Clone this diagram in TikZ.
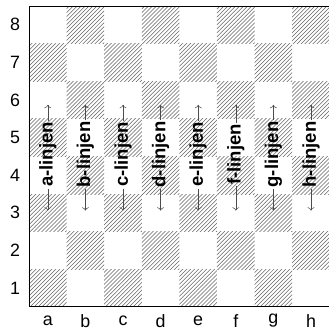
\documentclass[tikz,border=0pt]{standalone}
\usepackage{fontspec}
\setmainfont{Liberation Sans}
\usepackage{tikz}
\usetikzlibrary{patterns,arrows.meta,calc}

\tikzset{
  darksq/.style={pattern=north east lines, pattern color=black!60},
  filelabel/.style={font=\fontsize{14}{16}\selectfont\bfseries, rotate=90, inner sep=1pt},
  coordlabel/.style={font=\fontsize{13.5}{16}\selectfont},
  linearrow/.style={->, draw=black!70},
}

\begin{document}
\begin{tikzpicture}
    \useasboundingbox (-0.771,-0.696) rectangle (7.975,8.16);

    % Dark squares
    \foreach \i in {0,...,7} {
      \foreach \j in {0,...,7} {
        \pgfmathtruncatemacro\sqpar{mod(\i+\j,2)}
        \ifnum\sqpar=0
          \fill[darksq] (\i,\j) rectangle ++(1,1);
        \fi
      }
    }

    % Board edge (right side runs off the picture)
    \draw[semithick] (8,8) -- (0,8) -- (0,0) -- (8,0);

    % Coordinates
    \foreach \f [count=\i from 0] in {a,...,h}
      \node[coordlabel] (file-\f) at (\i+0.5,-0.37) {\f};
    \foreach \r in {1,...,8}
      \node[coordlabel] (rank-\r) at (-0.37,\r-0.5) {\r};

    % File names with arrows
    \foreach \f [count=\i from 0] in {a,...,h} {
      \node[filelabel] (lbl-\f) at (\i+0.5,4.05) {\f-linjen};
      \coordinate (up-\f) at (\i+0.5,5.37);
      \coordinate (dn-\f) at (\i+0.5,2.56);
      \draw[linearrow] (lbl-\f.east) -- (up-\f);
      \draw[linearrow] (lbl-\f.west) -- (dn-\f);
    }
\end{tikzpicture}
\end{document}
